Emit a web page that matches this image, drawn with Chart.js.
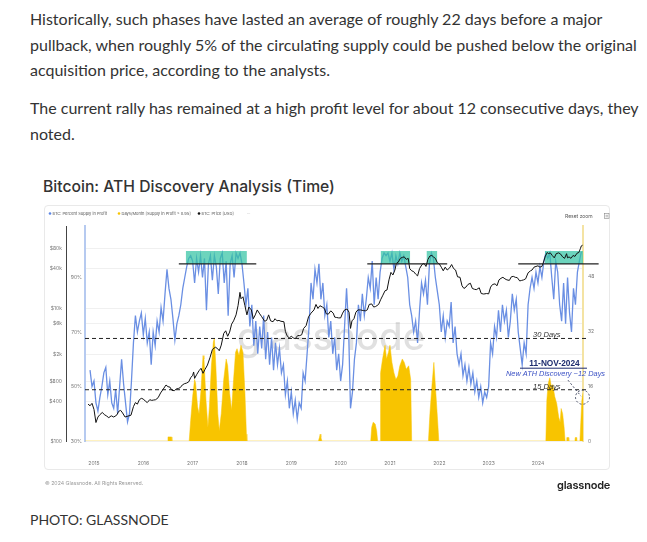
<!DOCTYPE html>
<html>
<head>
<meta charset="utf-8">
<script src="https://cdn.jsdelivr.net/npm/chart.js@4.4.0/dist/chart.umd.min.js"></script>
<style>
html, body { margin: 0; padding: 0; background: #fff; }
body { width: 647px; height: 542px; position: relative; overflow: hidden; font-family: Lato, sans-serif; color: #333; }
.p { position: absolute; left: 30px; margin: 0; font-size: 16px; line-height: 25.5px; white-space: nowrap; }
#p1 { top: 6px; }
#p2 { top: 95px; }
#title { position: absolute; left: 43px; top: 177px; font: 500 15.7px Inter, sans-serif; line-height: 20px; color: #333; }
#card { position: absolute; left: 44px; top: 205px; width: 566px; height: 265px; border: 1px solid #e9e9e9; border-radius: 4px; box-sizing: border-box; }
#wrap { position: absolute; left: 44px; top: 205px; width: 566px; height: 290px; }
#logo { position: absolute; left: 557px; top: 478px; font: 600 11px Inter, sans-serif; color: #222; letter-spacing: -0.2px; }
#photo { position: absolute; left: 30px; top: 510px; font-size: 14px; line-height: 20px; }
</style>
</head>
<body>
<p class="p" id="p1">Historically, such phases have lasted an average of roughly 22 days before a major<br>pullback, when roughly 5% of the circulating supply could be pushed below the original<br>acquisition price, according to the analysts.</p>
<p class="p" id="p2">The current rally has remained at a high profit level for about 12 consecutive days, they<br>noted.</p>
<div id="title">Bitcoin: ATH Discovery Analysis (Time)</div>
<div id="card"></div>
<div id="wrap"><canvas id="myChart" width="566" height="290"></canvas></div>
<div id="logo">glassnode</div>
<div id="photo">PHOTO: GLASSNODE</div>
<script>
// axis ticks
const yearTicks = [2015, 2016, 2017, 2018, 2019, 2020, 2021, 2022, 2023, 2024];
const priceTicks = [100, 400, 800, 2000, 6000, 10000, 40000, 80000];
const priceTickLabels = ['$100', '$400', '$800', '$2k', '$6k', '$10k', '$40k', '$80k'];
const pctTicks = [30, 50, 70, 90];
const dayTicks = [0, 16, 32, 48];

// BTC: Percent Supply in Profit (%), one value every ~2 weeks
const supplyStart = 2014.92;
const supplyStep = 0.04;
const supplyInProfit = [
    56, 50,
    52, 44, 41, 46, 50, 55, 57, 47, 52, 44, 42, 49, 40, 50, 60, 51, 44, 37, 40, 52, 66, 76, 70, 74, 77,
    69, 75, 66, 70, 58, 70, 65, 74, 70, 79, 74, 84, 93, 86, 82, 75, 67, 73, 76, 80, 86, 90, 94, 97, 98,
    96, 88, 97, 92, 98, 90, 97, 78, 95, 98, 89, 98, 94, 84, 97, 99, 88, 96, 76, 95, 98, 90, 99, 97, 99,
    95, 88, 80, 86, 72, 80, 65, 74, 62, 72, 64, 76, 60, 70, 58, 68, 56, 66, 58, 64, 55, 58, 47, 52, 42,
    48, 40, 45, 38, 44, 42, 55, 52, 62, 72, 88, 82, 93, 88, 95, 82, 88, 76, 80, 68, 74, 62, 68, 56, 62,
    52, 58, 72, 86, 72, 42, 48, 60, 66, 80, 74, 84, 76, 82, 90, 86, 96, 80, 90, 82, 92, 97, 99, 98, 99,
    96, 99, 93, 98, 95, 99, 96, 98, 94, 90, 80, 76, 70, 74, 66, 78, 88, 84, 89, 80, 95, 99, 97, 90, 85,
    80, 70, 76, 68, 74, 72, 81, 66, 72, 62, 58, 62, 54, 58, 52, 57, 51, 55, 48, 52, 46, 50, 44, 48, 46,
    50, 66, 62, 72, 68, 78, 70, 80, 74, 78, 68, 74, 84, 78, 82, 70, 64, 58, 66, 62, 80, 86, 90, 86, 92,
    88, 94, 90, 96, 99, 97, 99, 90, 82, 96, 92, 80, 74, 88, 73, 90, 77, 70, 86, 80, 92, 96, 99.5
];

// BTC: Price [USD]
const priceDates = [
    2014.88, 2014.92, 2014.96, 2015.00, 2015.04, 2015.08, 2015.12, 2015.17, 2015.21, 2015.25, 2015.30, 2015.35, 2015.40, 2015.46,
    2015.50, 2015.54, 2015.58, 2015.63, 2015.67, 2015.71, 2015.75, 2015.80, 2015.84, 2015.88, 2015.92, 2015.96,
    2016.00, 2016.04, 2016.08, 2016.13, 2016.17, 2016.21, 2016.25, 2016.30, 2016.35, 2016.40, 2016.46, 2016.50,
    2016.54, 2016.58, 2016.63, 2016.67, 2016.71, 2016.75, 2016.79, 2016.83, 2016.88, 2016.92, 2016.96,
    2017.00, 2017.02, 2017.04, 2017.08, 2017.13, 2017.17, 2017.21, 2017.25, 2017.30, 2017.35, 2017.40, 2017.46,
    2017.50, 2017.54, 2017.58, 2017.63, 2017.67, 2017.71, 2017.75, 2017.79, 2017.83, 2017.88, 2017.92, 2017.96, 2017.98,
    2018.02, 2018.06, 2018.10, 2018.14, 2018.19, 2018.23, 2018.27, 2018.31, 2018.35, 2018.40, 2018.46, 2018.50,
    2018.54, 2018.58, 2018.63, 2018.67, 2018.71, 2018.75, 2018.79, 2018.85, 2018.88, 2018.92, 2018.96,
    2019.00, 2019.04, 2019.08, 2019.13, 2019.17, 2019.21, 2019.25, 2019.30, 2019.35, 2019.40, 2019.46, 2019.50,
    2019.54, 2019.58, 2019.63, 2019.67, 2019.71, 2019.75, 2019.80, 2019.85, 2019.88, 2019.92, 2019.96,
    2020.00, 2020.04, 2020.08, 2020.13, 2020.17, 2020.20, 2020.23, 2020.27, 2020.31, 2020.35, 2020.40, 2020.46,
    2020.50, 2020.54, 2020.58, 2020.63, 2020.67, 2020.71, 2020.77, 2020.81, 2020.85, 2020.90, 2020.94, 2020.98,
    2021.02, 2021.06, 2021.10, 2021.13, 2021.17, 2021.21, 2021.25, 2021.29, 2021.33, 2021.37, 2021.40, 2021.44,
    2021.48, 2021.52, 2021.56, 2021.60, 2021.65, 2021.69, 2021.73, 2021.77, 2021.81, 2021.85, 2021.88, 2021.92, 2021.96,
    2022.00, 2022.04, 2022.08, 2022.12, 2022.16, 2022.21, 2022.25, 2022.29, 2022.33, 2022.37, 2022.42, 2022.46,
    2022.50, 2022.54, 2022.58, 2022.63, 2022.67, 2022.71, 2022.75, 2022.81, 2022.85, 2022.90, 2022.96,
    2023.00, 2023.04, 2023.08, 2023.13, 2023.17, 2023.21, 2023.25, 2023.29, 2023.33, 2023.37, 2023.42, 2023.46,
    2023.50, 2023.54, 2023.58, 2023.63, 2023.67, 2023.71, 2023.75, 2023.80, 2023.85, 2023.88, 2023.92, 2023.96,
    2024.00, 2024.04, 2024.08, 2024.12, 2024.15, 2024.19, 2024.21, 2024.25, 2024.29, 2024.33, 2024.37, 2024.42,
    2024.46, 2024.50, 2024.54, 2024.58, 2024.60, 2024.63, 2024.67, 2024.71, 2024.75, 2024.79, 2024.83, 2024.86, 2024.88, 2024.905
];
const btcPrice = [
    360, 340, 370, 300, 190, 230, 250, 270, 250, 240, 225, 240, 230, 245,
    280, 290, 265, 230, 235, 240, 245, 330, 380, 360, 420, 440,
    430, 400, 380, 420, 410, 415, 420, 450, 530, 600, 700, 660,
    650, 580, 575, 610, 620, 640, 700, 730, 750, 780, 900,
    980, 1100, 880, 1000, 1150, 1250, 1050, 1200, 1400, 1800, 2400, 2600,
    2500, 2300, 2800, 4200, 4600, 3800, 4400, 5800, 6500, 8000, 11000, 17500, 14000,
    15000, 11000, 8000, 10500, 9500, 7000, 8000, 9500, 8500, 7500, 6400, 6600,
    8000, 6500, 6300, 7000, 6500, 6600, 6400, 6300, 4500, 3800, 3600,
    3800, 3600, 3500, 3900, 3900, 4000, 5000, 5500, 7500, 8500, 9500, 11500,
    10000, 11000, 10500, 10000, 8300, 8200, 9200, 8500, 7400, 7300, 7200,
    7200, 8500, 9500, 9800, 8800, 5000, 6500, 7000, 8800, 9500, 9500, 9300,
    9200, 9500, 11500, 11700, 10500, 10700, 11500, 13500, 15500, 18500, 19000, 27000,
    35000, 32000, 38000, 48000, 50000, 57000, 59000, 60000, 55000, 57000, 40000, 37000,
    36000, 33000, 31000, 40000, 46000, 48000, 43000, 55000, 62000, 63000, 60000, 57000, 49000,
    47000, 42000, 37000, 42000, 38000, 41000, 46000, 40000, 38000, 30000, 29500, 22000,
    20000, 21000, 23000, 24000, 20000, 19500, 19200, 20500, 16800, 16500, 16800,
    16600, 21000, 23000, 23500, 22000, 27000, 28500, 29500, 28000, 27000, 26500, 30000,
    30500, 29500, 29200, 26000, 26500, 27000, 28000, 34500, 37000, 38000, 42000, 43000,
    44000, 42000, 43000, 52000, 62000, 70000, 67000, 69000, 63000, 58000, 67000, 69000,
    66000, 60000, 57000, 67000, 58000, 60000, 57000, 63000, 61000, 68000, 70000, 80000, 88000, 90000
];

// Days/Month [Supply in Profit > 0.95]
const athDayDates = [
    2014.82, 2016.49, 2016.50, 2016.57, 2016.58,
    2016.93, 2016.96, 2017.00, 2017.04, 2017.06, 2017.10, 2017.13, 2017.17, 2017.21, 2017.23, 2017.27, 2017.31,
    2017.34, 2017.38, 2017.42, 2017.44, 2017.47, 2017.51, 2017.54, 2017.58, 2017.63, 2017.68, 2017.71, 2017.75,
    2017.79, 2017.83, 2017.87, 2017.90, 2017.94, 2017.98, 2018.02, 2018.06, 2018.09, 2018.10,
    2019.55, 2019.57, 2019.585, 2019.60, 2019.62,
    2020.61, 2020.63, 2020.66, 2020.70, 2020.73, 2020.75,
    2020.80, 2020.81, 2020.85, 2020.90, 2020.93, 2020.97, 2021.00, 2021.04, 2021.08, 2021.12, 2021.16, 2021.20,
    2021.25, 2021.29, 2021.33, 2021.38, 2021.42, 2021.44,
    2021.78, 2021.81, 2021.85, 2021.89, 2021.93, 2021.97, 2021.99,
    2024.16, 2024.18, 2024.21, 2024.24, 2024.27, 2024.30, 2024.34, 2024.38, 2024.42, 2024.45, 2024.47, 2024.50, 2024.53, 2024.55,
    2024.58, 2024.585, 2024.62, 2024.625,
    2024.75, 2024.755, 2024.78, 2024.785,
    2024.85, 2024.87, 2024.89, 2024.913
];
const athDays = [
    0, 0, 1.2, 1.2, 0,
    0, 6, 13, 18, 17, 10, 8, 15, 25, 24, 12, 4,
    10, 22, 29, 30, 22, 8, 3, 8, 18, 24, 22, 14,
    9, 18, 26, 27, 25, 28, 26, 14, 2, 0,
    0, 1, 2, 1, 0,
    0, 4, 5.5, 5, 3, 0,
    0, 20, 24, 28, 24, 26, 28, 23, 20, 18, 19, 22,
    24, 23, 21, 22, 18, 0,
    0, 8, 16, 23, 14, 5, 0,
    0, 12, 17, 18.5, 16, 16.5, 13, 11, 7, 5.5, 9.5, 8, 4, 0,
    0, 1, 1, 0,
    0, 1, 1, 0,
    0, 6, 12, 14
];

// ATH discovery phases: shaded boxes and the marker line under them
const athBoxStart = [2016.86, 2020.81, 2021.74, 2024.14];
const athBoxEnd = [2018.10, 2021.41, 2021.96, 2024.913];
const athLineStart = [2016.72, 2020.54, 2023.60];
const athLineEnd = [2018.29, 2022.16, 2025.23];
const thresholdDays = [30, 15];

const X_MIN = 2014.818, X_MAX = 2024.913;

const supplyData = supplyInProfit.map((v, i) => ({ x: supplyStart + i * supplyStep, y: v }));
const priceData = priceDates.map((d, i) => ({ x: d, y: btcPrice[i] }));
const daysData = athDayDates.map((d, i) => ({ x: d, y: athDays[i] }));

const boxData = [];
athBoxStart.forEach((s, i) => {
    boxData.push({ x: s, y: 99.7 }, { x: athBoxEnd[i], y: 99.7 }, { x: athBoxEnd[i], y: null });
});
const lineData = [];
athLineStart.forEach((s, i) => {
    lineData.push({ x: s, y: 95 }, { x: athLineEnd[i], y: 95 }, { x: athLineEnd[i], y: null });
});

const thresholdSets = thresholdDays.map(d => ({
    data: [{ x: X_MIN, y: d }, { x: X_MAX + 0.08, y: d }],
    yAxisID: 'days',
    borderColor: '#222',
    borderWidth: 1,
    borderDash: [4, 3],
    clip: { left: 0, top: 0, right: 5, bottom: 0 },
    order: 1,
}));

const extras = {
    id: 'extras',
    beforeDatasetsDraw(chart) {
        const { ctx, chartArea: a } = chart;
        ctx.save();
        ctx.font = '500 40px Inter';
        const w = ctx.measureText('glassnode').width;
        ctx.font = '500 ' + (40 * 188 / w).toFixed(1) + 'px Inter';
        ctx.fillStyle = 'rgba(0,0,0,0.12)';
        ctx.textAlign = 'center';
        ctx.textBaseline = 'alphabetic';
        ctx.fillText('glassnode', a.left + 246, a.top + 124);
        ctx.restore();
    },
    afterDatasetsDraw(chart) {
        const { ctx } = chart;
        const x = chart.scales.x, d = chart.scales.days;
        ctx.save();
        ctx.fillStyle = '#333';
        ctx.textAlign = 'center';
        ctx.textBaseline = 'alphabetic';
        ctx.font = 'italic 7.5px "Liberation Sans"';
        ctx.fillText('30 Days', x.getPixelForValue(2024.18), d.getPixelForValue(30.3));
        ctx.fillText('15 Days', x.getPixelForValue(2024.18), d.getPixelForValue(15.2));

        ctx.fillStyle = '#1d2b6e';
        ctx.font = 'bold 8.3px "Liberation Sans"';
        ctx.fillText('11-NOV-2024', x.getPixelForValue(2024.335), d.getPixelForValue(21.8));
        ctx.strokeStyle = '#1d2b6e';
        ctx.lineWidth = 1;
        ctx.beginPath();
        ctx.moveTo(x.getPixelForValue(2023.636), d.getPixelForValue(21.3));
        ctx.lineTo(x.getPixelForValue(2024.994), d.getPixelForValue(21.3));
        ctx.stroke();

        ctx.fillStyle = '#3a50c4';
        ctx.font = 'italic 7.4px "Liberation Sans"';
        ctx.textAlign = 'left';
        ctx.fillText('New ATH Discovery ~12 Days', x.getPixelForValue(2023.352), d.getPixelForValue(19.0));

        ctx.strokeStyle = '#4a5068';
        ctx.setLineDash([2, 2]);
        ctx.beginPath();
        ctx.moveTo(x.getPixelForValue(2024.609), d.getPixelForValue(17.8));
        ctx.lineTo(x.getPixelForValue(2024.873), d.getPixelForValue(13.1));
        ctx.stroke();
        ctx.beginPath();
        ctx.arc(x.getPixelForValue(2024.903), d.getPixelForValue(12.8), 7, 0, Math.PI * 2);
        ctx.stroke();
        ctx.restore();
    },
    afterDraw(chart) {
        const { ctx } = chart;
        ctx.save();
        ctx.textBaseline = 'middle';
        ctx.font = '4px Inter';
        const items = [
            [6, '#5b86e5', 'BTC: Percent Supply in Profit'],
            [75, '#f8c400', 'Days/Month [Supply in Profit > 0.95]'],
            [155, '#111', 'BTC: Price [USD]'],
        ];
        items.forEach(([px, c, t]) => {
            ctx.fillStyle = c;
            ctx.beginPath();
            ctx.arc(px, 8.5, 1.3, 0, Math.PI * 2);
            ctx.fill();
            ctx.fillStyle = '#555';
            ctx.fillText(t, px + 2.5, 8.7);
        });
        ctx.fillStyle = '#aaa';
        ctx.fillText('···', 203, 8.5);

        ctx.fillStyle = '#555';
        ctx.font = '5px Inter';
        ctx.fillText('Reset zoom', 521, 11);
        ctx.strokeStyle = '#888';
        ctx.lineWidth = 0.6;
        ctx.strokeRect(560.5, 8.5, 4.5, 5);
        ctx.beginPath();
        ctx.moveTo(561.5, 10.3); ctx.lineTo(564, 10.3);
        ctx.moveTo(561.5, 11.8); ctx.lineTo(564, 11.8);
        ctx.stroke();

        ctx.fillStyle = '#999';
        ctx.font = '5.2px Inter';
        ctx.fillText('\u00a9 2024 Glassnode. All Rights Reserved.', 1, 278);
        ctx.restore();
    }
};

const smallTicks = { size: 5, family: 'Inter' };

const config = {
    type: 'line',
    data: {
        datasets: [
            {
                label: 'Days/Month [Supply in Profit > 0.95]',
                data: daysData,
                yAxisID: 'days',
                borderColor: '#f8c400',
                backgroundColor: '#f8c400',
                borderWidth: 0.5,
                fill: 'origin',
                order: 6,
            },
            {
                label: 'BTC: Percent Supply in Profit',
                data: supplyData,
                yAxisID: 'pct',
                borderColor: '#6a8fe3',
                borderWidth: 1.3,
                order: 5,
            },
            {
                label: 'ATH box',
                data: boxData,
                yAxisID: 'pct',
                borderWidth: 0,
                borderColor: 'rgba(0,0,0,0)',
                backgroundColor: 'rgba(52, 196, 164, 0.72)',
                fill: { value: 95 },
                spanGaps: false,
                order: 4,
            },
            {
                label: 'BTC: Price [USD]',
                data: priceData,
                yAxisID: 'price',
                borderColor: '#111',
                borderWidth: 1,
                order: 3,
            },
            {
                label: 'ATH line',
                data: lineData,
                yAxisID: 'pct',
                borderColor: '#222',
                borderWidth: 1.2,
                spanGaps: false,
                clip: { left: 0, top: 0, right: 16, bottom: 0 },
                order: 2,
            },
            ...thresholdSets,
        ]
    },
    options: {
        responsive: false,
        animation: false,
        devicePixelRatio: 1,
        layout: { padding: { top: 21, left: 0, right: 0, bottom: 0 } },
        elements: { point: { radius: 0 }, line: { tension: 0 } },
        plugins: { legend: { display: false }, tooltip: { enabled: false } },
        scales: {
            x: {
                type: 'linear',
                min: X_MIN,
                max: X_MAX,
                afterBuildTicks: s => { s.ticks = yearTicks.map(v => ({ value: v })); },
                afterFit: s => { s.height = 54; },
                grid: { display: false },
                border: { display: false },
                ticks: { font: smallTicks, color: '#777', padding: 11, maxRotation: 0, callback: v => String(v) },
            },
            price: {
                type: 'logarithmic',
                position: 'left',
                weight: 2,
                min: 100,
                max: 175400,
                afterBuildTicks: s => { s.ticks = priceTicks.map(v => ({ value: v })); },
                afterFit: s => { s.width = 22; },
                grid: { color: '#f0f0f0', drawTicks: false },
                border: { color: '#444', width: 1 },
                ticks: { font: smallTicks, color: '#777', padding: 4, callback: v => priceTickLabels[priceTicks.indexOf(v)] },
            },
            pct: {
                type: 'linear',
                position: 'left',
                weight: 1,
                min: 30,
                max: 108.9,
                afterBuildTicks: s => { s.ticks = pctTicks.map(v => ({ value: v })); },
                afterFit: s => { s.width = 19; },
                grid: { drawOnChartArea: false, drawTicks: false },
                border: { color: '#b6caf0', width: 2 },
                ticks: { font: smallTicks, color: '#777', padding: 3, callback: v => v + '%' },
            },
            days: {
                type: 'linear',
                position: 'right',
                min: 0,
                max: 62.9,
                afterBuildTicks: s => { s.ticks = dayTicks.map(v => ({ value: v })); },
                afterFit: s => { s.width = 27; },
                grid: { drawOnChartArea: false, drawTicks: false },
                border: { color: '#f4e3a3', width: 2 },
                ticks: { font: smallTicks, color: '#777', padding: 5 },
            },
        }
    },
    plugins: [extras]
};

const myChart = new Chart(document.getElementById('myChart'), config);
</script>
</body>
</html>
